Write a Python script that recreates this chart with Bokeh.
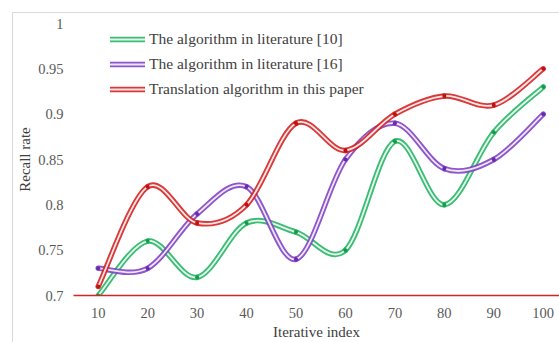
from bokeh.plotting import figure
from bokeh.models import Range1d, FixedTicker, Legend, LegendItem, ColumnDataSource, InlineStyleSheet
from bokeh.embed import file_html
from bokeh.resources import INLINE

iterations = [10, 20, 30, 40, 50, 60, 70, 80, 90, 100]
lit10 = [0.70, 0.76, 0.72, 0.78, 0.77, 0.75, 0.87, 0.80, 0.88, 0.93]
lit16 = [0.73, 0.73, 0.79, 0.82, 0.74, 0.85, 0.89, 0.84, 0.85, 0.90]
ours = [0.71, 0.82, 0.78, 0.80, 0.89, 0.86, 0.90, 0.92, 0.91, 0.95]
series_names = ["The algorithm in literature [10]",
                "The algorithm in literature [16]",
                "Translation algorithm in this paper"]
y_ticks = [0.7, 0.75, 0.8, 0.85, 0.9, 0.95, 1.0]
y_tick_labels = ["0.7", "0.75", "0.8", "0.85", "0.9", "0.95", "1"]

colors = ["#27b565", "#8145c4", "#d42424"]
dots = ["#169a4c", "#6a2aae", "#c01010"]
inner = ["#e6f8ee", "#efe6fa", "#fbe6e6"]

FONT = "Liberation Serif"

p = figure(width=559, height=342, output_backend="svg", toolbar_location=None,
           x_range=Range1d(5, 103.29), y_range=Range1d(0.7, 1.0),
           min_border_left=73, min_border_right=0, min_border_top=23,
           min_border_bottom=47)
p.outline_line_color = None
p.grid.grid_line_color = None
p.background_fill_color = "white"
p.border_fill_color = "white"

# light chart-area border (top and left edges visible), drawn as a CSS overlay
p.stylesheets = [InlineStyleSheet(css="""
:host::after {
  content: "";
  position: absolute;
  left: 12px; top: 12px; right: -10px; bottom: -10px;
  border-top: 1px solid #dadada;
  border-left: 1px solid #dadada;
  pointer-events: none;
}
""")]

# axes
p.xaxis.ticker = FixedTicker(ticks=iterations)
p.yaxis.ticker = FixedTicker(ticks=y_ticks)
p.yaxis.major_label_overrides = {t: l for t, l in zip(y_ticks, y_tick_labels)}
for ax in (p.xaxis[0], p.yaxis[0]):
    ax.major_tick_line_color = None
    ax.minor_tick_line_color = None
    ax.major_label_text_font = FONT
    ax.major_label_text_font_size = "14.5px"
    ax.major_label_text_color = "#595959"
    ax.axis_label_text_font = FONT
    ax.axis_label_text_font_size = "15px"
    ax.axis_label_text_font_style = "normal"
    ax.axis_label_text_color = "#404040"
p.xaxis.major_label_standoff = 6
p.yaxis.major_label_standoff = 4
p.xaxis.axis_line_color = "#d42424"
p.xaxis.axis_line_width = 1.5
p.yaxis.axis_line_color = None
p.xaxis.axis_label = "Iterative index"
p.yaxis.axis_label = "Recall rate"
p.xaxis.axis_label_standoff = 3
p.yaxis.axis_label_standoff = 2


def smooth_segments(xs, ys):
    n = len(xs)
    out = dict(x0=[], y0=[], x1=[], y1=[], cx0=[], cy0=[], cx1=[], cy1=[])
    for i in range(n - 1):
        im = max(i - 1, 0)
        ip2 = min(i + 2, n - 1)
        out["x0"].append(xs[i]); out["y0"].append(ys[i])
        out["x1"].append(xs[i + 1]); out["y1"].append(ys[i + 1])
        out["cx0"].append(xs[i] + (xs[i + 1] - xs[im]) / 6)
        out["cy0"].append(ys[i] + (ys[i + 1] - ys[im]) / 6)
        out["cx1"].append(xs[i + 1] - (xs[ip2] - xs[i]) / 6)
        out["cy1"].append(ys[i + 1] - (ys[ip2] - ys[i]) / 6)
    return ColumnDataSource(out)


items = []
for vals, name, c, d, ic in zip([lit10, lit16, ours], series_names, colors, dots, inner):
    src = smooth_segments(iterations, vals)
    r1 = p.bezier(x0="x0", y0="y0", x1="x1", y1="y1", cx0="cx0", cy0="cy0",
                  cx1="cx1", cy1="cy1", source=src, line_color=c, line_width=5.5,
                  line_cap="round", line_alpha=0.9)
    r2 = p.bezier(x0="x0", y0="y0", x1="x1", y1="y1", cx0="cx0", cy0="cy0",
                  cx1="cx1", cy1="cy1", source=src, line_color=ic, line_width=1.8,
                  line_cap="round")
    p.scatter(iterations, vals, size=4, fill_color=d, line_color=None)
    items.append(LegendItem(label=name, renderers=[r1, r2]))

legend = Legend(items=items, location=(37, 196), glyph_width=35, glyph_height=20,
                label_height=20, spacing=5, padding=0, margin=0, label_standoff=4,
                label_text_font=FONT, label_text_font_size="15.5px",
                label_text_color="#404040", border_line_color=None,
                background_fill_alpha=0)
p.add_layout(legend, "center")

open("out.html", "w").write(file_html(p, INLINE))
